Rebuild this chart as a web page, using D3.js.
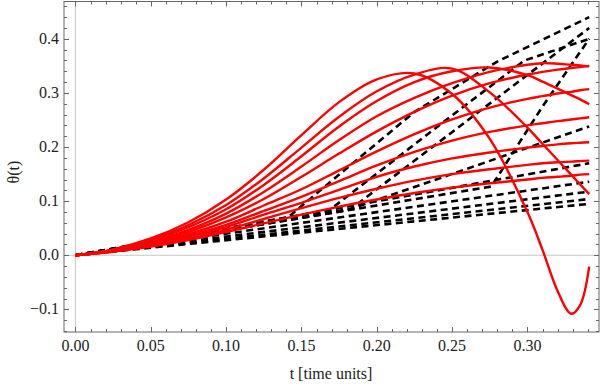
<!DOCTYPE html>
<html>
<head>
<meta charset="utf-8">
<script src="https://cdn.jsdelivr.net/npm/d3@7"></script>
<style>
  body { margin: 0; background: #fff; }
  text { font-family: "Liberation Serif", "Times New Roman", serif; }
</style>
</head>
<body>
<svg id="chart"></svg>
<script>
// time samples shared by the red curves
var tRed = [0, 0.025, 0.05, 0.075, 0.1, 0.125, 0.15, 0.175, 0.2, 0.225, 0.25, 0.275, 0.3, 0.31, 0.32, 0.329, 0.335, 0.341];

var red1  = [0, 0.011, 0.031, 0.061, 0.103, 0.158, 0.222, 0.283, 0.325, 0.336, 0.298, 0.215, 0.080, 0.010, -0.066, -0.108, -0.092, -0.021];
var red2  = [0, 0.010, 0.029, 0.056, 0.093, 0.142, 0.199, 0.256, 0.303, 0.334, 0.345, 0.301, 0.236, 0.206, 0.176, 0.149, 0.131, 0.113];
var red3  = [0, 0.010, 0.027, 0.052, 0.085, 0.130, 0.183, 0.238, 0.285, 0.320, 0.340, 0.347, 0.333, 0.321, 0.308, 0.296, 0.288, 0.279];
var red4  = [0, 0.009, 0.025, 0.047, 0.077, 0.117, 0.164, 0.213, 0.257, 0.291, 0.318, 0.339, 0.352, 0.355, 0.354, 0.352, 0.351, 0.349];
var red5  = [0, 0.009, 0.023, 0.043, 0.070, 0.104, 0.145, 0.188, 0.229, 0.265, 0.295, 0.318, 0.334, 0.339, 0.343, 0.346, 0.348, 0.350];
var red6  = [0, 0.008, 0.021, 0.039, 0.062, 0.092, 0.122, 0.157, 0.192, 0.224, 0.251, 0.273, 0.289, 0.294, 0.299, 0.302, 0.305, 0.307];
var red7  = [0, 0.008, 0.020, 0.036, 0.056, 0.082, 0.108, 0.137, 0.166, 0.191, 0.212, 0.228, 0.240, 0.244, 0.248, 0.251, 0.253, 0.255];
var red8  = [0, 0.007, 0.018, 0.033, 0.052, 0.075, 0.097, 0.121, 0.145, 0.164, 0.179, 0.190, 0.199, 0.202, 0.205, 0.207, 0.208, 0.209];
var red9  = [0, 0.007, 0.017, 0.030, 0.047, 0.067, 0.087, 0.106, 0.123, 0.138, 0.150, 0.159, 0.167, 0.170, 0.172, 0.173, 0.174, 0.175];
var red10 = [0, 0.007, 0.016, 0.028, 0.043, 0.059, 0.075, 0.090, 0.103, 0.115, 0.125, 0.133, 0.140, 0.143, 0.145, 0.147, 0.149, 0.150];
var redCurves = [red1, red2, red3, red4, red5, red6, red7, red8, red9, red10];

// dashed curves: [t, theta] break points, straight segments between them
var dashA = [[0, 0], [0.141, 0.070], [0.225, 0.265], [0.280, 0.358], [0.341, 0.440]];
var dashB = [[0, 0], [0.167, 0.080], [0.246, 0.250], [0.298, 0.360], [0.341, 0.400]];
var dashC = [[0, 0], [0.183, 0.086], [0.341, 0.420]];
var dashD = [[0, 0], [0.180, 0.083], [0.341, 0.238]];
var dashE = [[0, 0], [0.276, 0.127], [0.310, 0.275], [0.341, 0.400]];
var dashF = [[0, 0], [0.341, 0.170]];
var dashG = [[0, 0], [0.341, 0.136]];
var dashH = [[0, 0], [0.341, 0.1176]];
var dashI = [[0, 0], [0.341, 0.104]];
var dashJ = [[0, 0], [0.341, 0.095]];
var dashCurves = [dashA, dashB, dashC, dashD, dashE, dashF, dashG, dashH, dashI, dashJ];

var xTicks = [0, 0.05, 0.10, 0.15, 0.20, 0.25, 0.30];
var yTicks = [-0.1, 0.0, 0.1, 0.2, 0.3, 0.4];

drawChart();

function drawChart(){
  var width = 600;
  var height = 384;
  var left = 64, right = 599, top = 1.5, bottom = 332;

  var svg = d3.select("svg#chart")
              .attr("width", width)
              .attr("height", height);

  var x = d3.scaleLinear().domain([-0.0076, 0.3475]).range([left, right]);
  var y = d3.scaleLinear().domain([-0.1418, 0.469]).range([bottom, top]);

  svg.append("clipPath").attr("id", "clip")
     .append("rect")
     .attr("x", left).attr("y", top)
     .attr("width", right - left).attr("height", bottom - top);

  // zero lines
  svg.append("line")
     .attr("x1", left).attr("x2", right)
     .attr("y1", y(0)).attr("y2", y(0))
     .attr("stroke", "#c8c8c8").attr("stroke-width", 1);
  svg.append("line")
     .attr("x1", x(0)).attr("x2", x(0))
     .attr("y1", top).attr("y2", bottom)
     .attr("stroke", "#c8c8c8").attr("stroke-width", 1);

  var plot = svg.append("g").attr("clip-path", "url(#clip)");

  var dashLine = d3.line()
                   .x(function(d){ return x(d[0]); })
                   .y(function(d){ return y(d[1]); });

  plot.selectAll("path.dash")
      .data(dashCurves)
      .enter()
      .append("path")
      .attr("class", "dash")
      .attr("d", dashLine)
      .attr("fill", "none")
      .attr("stroke", "black")
      .attr("stroke-width", 2.6)
      .attr("stroke-dasharray", "7,4.5");

  var redLine = d3.line()
                  .x(function(d, i){ return x(tRed[i]); })
                  .y(function(d){ return y(d); })
                  .curve(d3.curveCatmullRom.alpha(0.5));

  plot.selectAll("path.red")
      .data(redCurves)
      .enter()
      .append("path")
      .attr("class", "red")
      .attr("d", redLine)
      .attr("fill", "none")
      .attr("stroke", "#ff0000")
      .attr("stroke-width", 2.4);

  // frame
  svg.append("rect")
     .attr("x", left).attr("y", top)
     .attr("width", right - left).attr("height", bottom - top)
     .attr("fill", "none")
     .attr("stroke", "#666")
     .attr("stroke-width", 1);

  // ticks on all four sides, pointing in
  var xMinor = d3.range(0, 0.3475, 0.01);
  var yMinor = d3.range(-0.14, 0.469, 0.02);

  var xAll = xMinor.map(function(v){ return {v: v, major: Math.abs(Math.round(v * 20) - v * 20) < 1e-6}; });
  var yAll = yMinor.map(function(v){ return {v: v, major: Math.abs(Math.round(v * 10) - v * 10) < 1e-6}; });

  var tickG = svg.append("g").attr("stroke", "#666").attr("stroke-width", 1);

  xAll.forEach(function(d){
    var len = d.major ? 5 : 3;
    var px = Math.round(x(d.v)) + 0.5;
    tickG.append("line").attr("x1", px).attr("x2", px).attr("y1", bottom).attr("y2", bottom - len);
    tickG.append("line").attr("x1", px).attr("x2", px).attr("y1", top).attr("y2", top + len);
  });
  yAll.forEach(function(d){
    var len = d.major ? 5 : 3;
    var py = Math.round(y(d.v)) + 0.5;
    tickG.append("line").attr("x1", left).attr("x2", left + len).attr("y1", py).attr("y2", py);
    tickG.append("line").attr("x1", right).attr("x2", right - len).attr("y1", py).attr("y2", py);
  });

  svg.selectAll("text.xt")
     .data(xTicks)
     .enter()
     .append("text")
     .attr("class", "xt")
     .text(function(d){ return d.toFixed(2); })
     .attr("x", function(d){ return x(d); })
     .attr("y", 351)
     .attr("text-anchor", "middle")
     .attr("font-size", 16)
     .attr("fill", "#222");

  svg.selectAll("text.yt")
     .data(yTicks)
     .enter()
     .append("text")
     .attr("class", "yt")
     .text(function(d){ return d < 0 ? "\u2212" + Math.abs(d).toFixed(1) : d.toFixed(1); })
     .attr("x", 59)
     .attr("y", function(d){ return y(d) + 5; })
     .attr("text-anchor", "end")
     .attr("font-size", 16)
     .attr("fill", "#222");

  svg.append("text")
     .text("t [time units]")
     .attr("x", 331)
     .attr("y", 379)
     .attr("text-anchor", "middle")
     .attr("font-size", 16)
     .attr("fill", "#222");

  svg.append("text")
     .text("\u03b8(t)")
     .attr("transform", "translate(19,172) rotate(-90)")
     .attr("text-anchor", "middle")
     .attr("font-size", 16)
     .attr("fill", "#222");
}
</script>
</body>
</html>
